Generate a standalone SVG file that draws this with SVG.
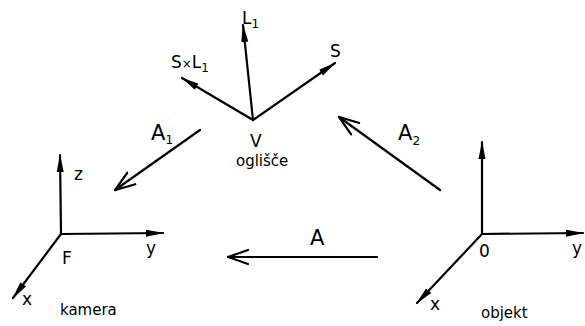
<svg xmlns="http://www.w3.org/2000/svg" width="585" height="326" viewBox="0 0 585 326">
<style>
.ln{stroke:#000;stroke-width:2.2;fill:none;stroke-linecap:round}
.ax{marker-end:url(#fill)}
.cn{marker-end:url(#open)}
text{font-family:"DejaVu Sans","Liberation Sans",sans-serif;fill:#000;font-size:17px}
.sm{font-size:12px}
.big{font-size:21px}
.wd{font-size:15px}
</style>
<defs>
<marker id="fill" markerUnits="userSpaceOnUse" viewBox="0 0 18 8" refX="17" refY="4" markerWidth="18" markerHeight="8" orient="auto">
<path d="M0,0.5 L18,4 L0,7.5 z" fill="#000"/>
</marker>
<marker id="open" markerUnits="userSpaceOnUse" viewBox="0 0 22 18" refX="21" refY="9" markerWidth="22" markerHeight="18" orient="auto">
<path d="M1,2 L21,9 L1,16" fill="none" stroke="#000" stroke-width="2.2" stroke-linecap="round"/>
</marker>
</defs>
<g id="vertex">
<line class="ln ax" x1="253" y1="120" x2="243" y2="25"/>
<line class="ln ax" x1="253" y1="120" x2="335" y2="63"/>
<line class="ln ax" x1="253" y1="120" x2="182" y2="78"/>
<text x="242" y="24">L<tspan class="sm" dy="4">1</tspan></text>
<text x="330" y="57">S</text>
<text x="171" y="68">S<tspan font-size="12">×</tspan>L<tspan class="sm" dy="4">1</tspan></text>
<text x="250" y="147" font-size="19">V</text>
<text class="wd" x="236" y="166">oglišče</text>
</g>
<g id="camera">
<line class="ln ax" x1="61" y1="234" x2="60" y2="155"/>
<line class="ln ax" x1="61" y1="234" x2="163" y2="233"/>
<line class="ln ax" x1="61" y1="234" x2="13" y2="298"/>
<text x="74" y="180">z</text>
<text x="146" y="254">y</text>
<text x="62" y="264">F</text>
<text x="22" y="305">x</text>
<text class="wd" x="60" y="315">kamera</text>
</g>
<g id="object">
<line class="ln ax" x1="482" y1="234" x2="482" y2="142"/>
<line class="ln ax" x1="482" y1="234" x2="583" y2="233"/>
<line class="ln ax" x1="482" y1="234" x2="417" y2="303"/>
<text x="479" y="257">0</text>
<text x="572" y="254">y</text>
<text x="430" y="310">x</text>
<text class="wd" x="481" y="318">objekt</text>
</g>
<g id="connectors">
<line class="ln cn" x1="200" y1="130" x2="115" y2="190"/>
<line class="ln cn" x1="440" y1="190" x2="339" y2="117"/>
<line class="ln cn" x1="377" y1="257" x2="228" y2="257"/>
<text class="big" x="151" y="140">A<tspan class="sm" dy="4">1</tspan></text>
<text class="big" x="398" y="140">A<tspan class="sm" dy="5">2</tspan></text>
<text class="big" x="310" y="245">A</text>
</g>
</svg>
